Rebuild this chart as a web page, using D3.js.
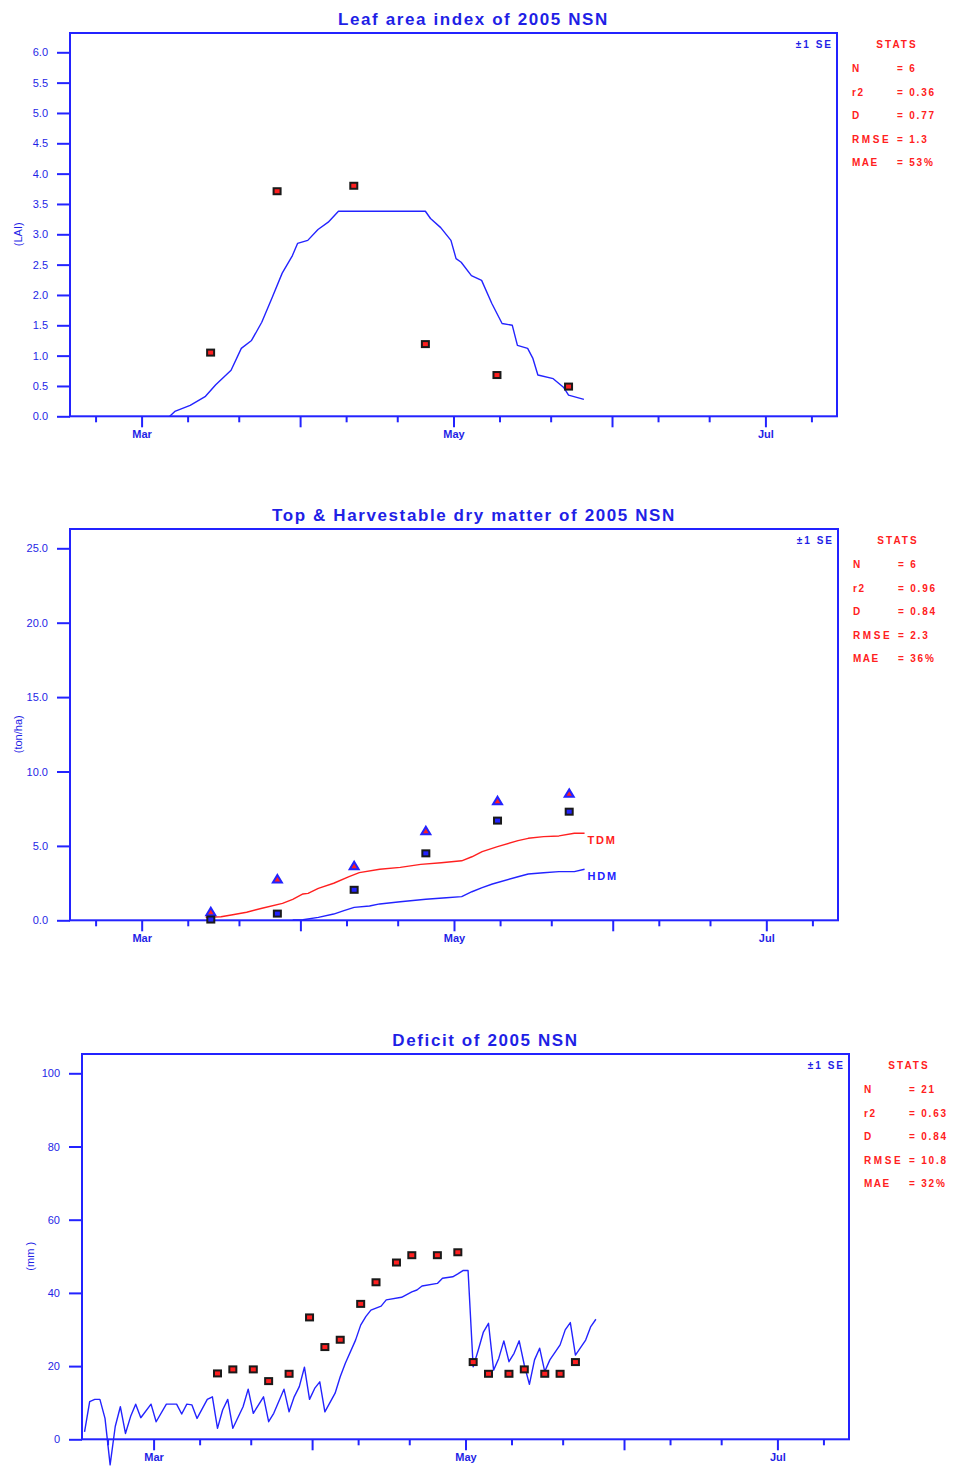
<!DOCTYPE html>
<html>
<head>
<meta charset="utf-8">
<script src="https://cdn.jsdelivr.net/npm/d3@7"></script>
<style>
  body { margin: 0; background: #ffffff; }
  svg text { font-family: "Liberation Sans", Arial, sans-serif; }
</style>
</head>
<body>
<svg id="chart" width="953" height="1467"></svg>
<script>
// ---- Season axis ----
const seasonStart = "2005-02-15";
const seasonEnd = "2005-07-15";
const monthTicks = ["2005-03-01", "2005-04-01", "2005-05-01", "2005-06-01", "2005-07-01"];
const monthTickLabels = ["Mar", "", "May", "", "Jul"];
const minorTicks = ["2005-02-20", "2005-03-10", "2005-03-20", "2005-04-10", "2005-04-20",
                    "2005-05-10", "2005-05-20", "2005-06-10", "2005-06-20", "2005-07-10"];

// ---- Statistics block ----
const statNames = ["N", "r2", "D", "RMSE", "MAE"];
const laiStats = ["= 6", "= 0.36", "= 0.77", "= 1.3", "= 53%"];
const dmStats = ["= 6", "= 0.96", "= 0.84", "= 2.3", "= 36%"];
const deficitStats = ["= 21", "= 0.63", "= 0.84", "= 10.8", "= 32%"];

// ---- Leaf area index ----
const laiTicks = [0, 0.5, 1, 1.5, 2, 2.5, 3, 3.5, 4, 4.5, 5, 5.5, 6];
const laiObsDates = ["2005-03-14", "2005-03-27", "2005-04-11", "2005-04-25", "2005-05-09", "2005-05-23"];
const laiObs = [1.05, 3.71, 3.80, 1.19, 0.68, 0.49];
const laiSimDates = ["2005-03-06", "2005-03-07", "2005-03-10", "2005-03-13", "2005-03-15", "2005-03-18",
  "2005-03-20", "2005-03-22", "2005-03-24", "2005-03-26", "2005-03-28", "2005-03-30", "2005-03-31",
  "2005-04-02", "2005-04-04", "2005-04-06", "2005-04-08", "2005-04-25", "2005-04-26", "2005-04-28",
  "2005-04-30", "2005-05-01", "2005-05-02", "2005-05-04", "2005-05-06", "2005-05-08", "2005-05-10",
  "2005-05-12", "2005-05-13", "2005-05-15", "2005-05-16", "2005-05-17", "2005-05-20", "2005-05-22",
  "2005-05-23", "2005-05-26"];
const laiSim = [0.0, 0.08, 0.18, 0.33, 0.52, 0.76,
  1.12, 1.25, 1.55, 1.95, 2.36, 2.65, 2.85,
  2.90, 3.08, 3.20, 3.38, 3.38, 3.26, 3.11,
  2.90, 2.60, 2.54, 2.32, 2.24, 1.86, 1.53,
  1.50, 1.17, 1.12, 0.96, 0.68, 0.62, 0.48,
  0.35, 0.28];

// ---- Top & harvestable dry matter ----
const dmTicks = [0, 5, 10, 15, 20, 25];
const dmObsDates = ["2005-03-14", "2005-03-27", "2005-04-11", "2005-04-25", "2005-05-09", "2005-05-23"];
const tdmObs = [0.58, 2.78, 3.67, 6.02, 8.04, 8.53];
const hdmObs = [0.05, 0.45, 2.05, 4.50, 6.70, 7.30];
const tdmSimDates = ["2005-03-13", "2005-03-16", "2005-03-18", "2005-03-21", "2005-03-24", "2005-03-28",
  "2005-03-30", "2005-04-01", "2005-04-02", "2005-04-04", "2005-04-07", "2005-04-10", "2005-04-12",
  "2005-04-16", "2005-04-20", "2005-04-24", "2005-04-28", "2005-05-02", "2005-05-04", "2005-05-06",
  "2005-05-09", "2005-05-13", "2005-05-15", "2005-05-18", "2005-05-21", "2005-05-24", "2005-05-26"];
const tdmSim = [0.20, 0.24, 0.36, 0.54, 0.81, 1.14,
  1.41, 1.77, 1.81, 2.15, 2.49, 2.93, 3.20,
  3.43, 3.56, 3.76, 3.87, 4.00, 4.27, 4.61,
  4.95, 5.35, 5.51, 5.62, 5.67, 5.85, 5.85];
const hdmSimDates = ["2005-03-30", "2005-04-01", "2005-04-04", "2005-04-07", "2005-04-09", "2005-04-11",
  "2005-04-14", "2005-04-16", "2005-04-20", "2005-04-25", "2005-04-29", "2005-05-02", "2005-05-04",
  "2005-05-06", "2005-05-08", "2005-05-13", "2005-05-15", "2005-05-18", "2005-05-21", "2005-05-24",
  "2005-05-26"];
const hdmSim = [0.02, 0.04, 0.20, 0.42, 0.65, 0.87,
  0.96, 1.10, 1.25, 1.41, 1.52, 1.59, 1.92,
  2.19, 2.44, 2.93, 3.11, 3.20, 3.27, 3.27,
  3.43];

// ---- Soil water deficit ----
const deficitTicks = [0, 20, 40, 60, 80, 100];
const deficitObsDates = ["2005-03-13", "2005-03-16", "2005-03-20", "2005-03-23", "2005-03-27", "2005-03-31",
  "2005-04-03", "2005-04-06", "2005-04-10", "2005-04-13", "2005-04-17", "2005-04-20", "2005-04-25",
  "2005-04-29", "2005-05-02", "2005-05-05", "2005-05-09", "2005-05-12", "2005-05-16", "2005-05-19",
  "2005-05-22"];
const deficitObs = [18.0, 19.1, 19.1, 15.9, 17.9, 33.3,
  25.2, 27.2, 37.0, 42.9, 48.3, 50.3, 50.3,
  51.1, 21.1, 17.9, 17.9, 19.1, 17.9, 17.9,
  21.1];
const deficitSimDates = ["2005-02-15", "2005-02-16", "2005-02-17", "2005-02-18", "2005-02-19", "2005-02-20",
  "2005-02-21", "2005-02-22", "2005-02-23", "2005-02-24", "2005-02-25", "2005-02-26", "2005-02-28",
  "2005-03-01", "2005-03-03", "2005-03-05", "2005-03-06", "2005-03-07", "2005-03-08", "2005-03-09",
  "2005-03-11", "2005-03-12", "2005-03-13", "2005-03-14", "2005-03-15", "2005-03-16", "2005-03-18",
  "2005-03-19", "2005-03-20", "2005-03-22", "2005-03-23", "2005-03-24", "2005-03-26", "2005-03-27",
  "2005-03-28", "2005-03-29", "2005-03-30", "2005-03-31", "2005-04-01", "2005-04-02", "2005-04-03",
  "2005-04-05", "2005-04-06", "2005-04-07", "2005-04-09", "2005-04-10", "2005-04-11", "2005-04-12",
  "2005-04-14", "2005-04-15", "2005-04-18", "2005-04-20", "2005-04-21", "2005-04-22", "2005-04-25",
  "2005-04-26", "2005-04-28", "2005-04-29", "2005-04-30", "2005-05-01", "2005-05-02", "2005-05-03",
  "2005-05-04", "2005-05-05", "2005-05-06", "2005-05-07", "2005-05-08", "2005-05-09", "2005-05-10",
  "2005-05-11", "2005-05-12", "2005-05-13", "2005-05-14", "2005-05-15", "2005-05-16", "2005-05-17",
  "2005-05-19", "2005-05-20", "2005-05-21", "2005-05-22", "2005-05-24", "2005-05-25", "2005-05-26"];
const deficitSim = [2.0, 10.3, 10.9, 10.9, 5.7, -7.0,
  3.5, 8.9, 1.6, 6.2, 9.6, 5.9, 9.6,
  4.8, 9.6, 9.6, 6.9, 9.6, 9.4, 5.7,
  10.9, 11.6, 3.0, 8.0, 10.9, 3.0, 8.9,
  13.7, 7.1, 11.6, 4.8, 7.1, 13.7, 7.5,
  11.6, 14.4, 19.7, 10.9, 13.9, 15.7, 7.5,
  12.6, 17.1, 20.8, 27.1, 31.2, 33.5, 35.3,
  36.4, 38.1, 38.8, 40.3, 40.8, 41.9, 42.6,
  44.0, 44.4, 45.2, 46.1, 46.1, 19.8, 24.4,
  29.3, 31.7, 18.9, 22.1, 26.9, 21.2, 23.5,
  26.9, 20.3, 15.0, 21.7, 24.9, 18.5, 21.7,
  25.8, 29.9, 31.9, 23.0, 27.1, 30.8, 32.8];

// ---- Drawing ----
const BLUE = "#2323ff";
const TEXT_BLUE = "#1f1fe6";
const RED = "#ff2020";
const svg = d3.select("#chart");

const atNoon = s => new Date(s + "T12:00:00Z");
const atMidnight = s => new Date(s + "T00:00:00Z");
const series = (dates, values) => dates.map((d, i) => ({ date: atNoon(d), value: values[i] }));

function drawPanel(p) {
  const g = svg.append("g");
  const x = d3.scaleUtc()
    .domain([atMidnight(seasonStart), atMidnight(seasonEnd)])
    .range([p.left, p.right]);
  const y = d3.scaleLinear().domain([0, p.yMaxTick]).range([p.bottom, p.yMaxPos]);

  // title
  g.append("text")
    .attr("x", (p.left + p.right) / 2 + 20).attr("y", p.top - 8)
    .attr("text-anchor", "middle")
    .attr("font-size", 17).attr("font-weight", "bold").attr("letter-spacing", 1.6)
    .attr("fill", TEXT_BLUE)
    .text(p.title);

  // y axis
  const ya = g.append("g").attr("transform", `translate(${p.left},0)`)
    .call(d3.axisLeft(y).tickValues(p.yTicks).tickSize(13).tickPadding(9).tickFormat(p.yFormat));
  // major month ticks
  const xa = g.append("g").attr("transform", `translate(0,${p.bottom})`)
    .call(d3.axisBottom(x).tickValues(monthTicks.map(atMidnight)).tickSize(11).tickPadding(3)
      .tickFormat((d, i) => monthTickLabels[i]));
  // minor ticks
  const xm = g.append("g").attr("transform", `translate(0,${p.bottom})`)
    .call(d3.axisBottom(x).tickValues(minorTicks.map(atMidnight)).tickSize(6).tickFormat(""));
  [ya, xa, xm].forEach(a => {
    a.select(".domain").remove();
    a.selectAll(".tick line").attr("stroke", BLUE).attr("stroke-width", 2);
    a.selectAll(".tick text").attr("fill", TEXT_BLUE).attr("font-size", 11)
      .attr("font-family", "\"Liberation Sans\", Arial, sans-serif");
  });
  xa.selectAll(".tick text").attr("font-weight", "bold").attr("font-size", 11);

  // frame
  g.append("rect")
    .attr("x", p.left).attr("y", p.top)
    .attr("width", p.right - p.left).attr("height", p.bottom - p.top)
    .attr("fill", "none").attr("stroke", BLUE).attr("stroke-width", 2);

  // y axis title
  g.append("text")
    .attr("transform", `translate(${p.yLabelX},${(p.bottom + p.yMaxPos) / 2}) rotate(-90)`)
    .attr("text-anchor", "middle").attr("font-size", 11).attr("fill", TEXT_BLUE)
    .text(p.yLabel);

  // ±1 SE
  g.append("text")
    .attr("x", p.right - 4).attr("y", p.top + 15)
    .attr("text-anchor", "end").attr("font-size", 10).attr("font-weight", "bold")
    .attr("letter-spacing", 2).attr("fill", TEXT_BLUE)
    .text("±1 SE");

  // statistics
  const sx = p.right + 15;
  g.append("text")
    .attr("x", sx + 45).attr("y", p.top + 15)
    .attr("text-anchor", "middle").attr("font-size", 10).attr("font-weight", "bold")
    .attr("letter-spacing", 2).attr("fill", RED).text("STATS");
  statNames.forEach((name, i) => {
    const ty = p.top + 39 + i * 23.6;
    g.append("text").attr("x", sx).attr("y", ty)
      .attr("font-size", 10).attr("font-weight", "bold").attr("letter-spacing", name === "RMSE" ? 2.6 : 1.5)
      .attr("fill", RED).text(name);
    g.append("text").attr("x", sx + 45).attr("y", ty)
      .attr("font-size", 10).attr("font-weight", "bold").attr("letter-spacing", 1.8)
      .attr("fill", RED).text(p.stats[i]);
  });

  const line = d3.line().x(d => x(d.date)).y(d => y(d.value));
  p.lines.forEach(l => {
    const data = series(l.dates, l.values);
    g.append("path").datum(data)
      .attr("d", line).attr("fill", "none")
      .attr("stroke", l.color).attr("stroke-width", 1.4).attr("stroke-linejoin", "round");
    if (l.label) {
      const last = data[data.length - 1];
      g.append("text")
        .attr("x", x(last.date) + 3).attr("y", y(last.value) + 11)
        .attr("font-size", 11).attr("font-weight", "bold").attr("letter-spacing", 1.8)
        .attr("fill", l.color).text(l.label);
    }
  });

  p.points.forEach(s => {
    const data = series(s.dates, s.values);
    if (s.shape === "triangle") {
      g.selectAll(null).data(data).join("path")
        .attr("transform", d => `translate(${x(d.date)},${y(d.value)})`)
        .attr("d", "M0,-4L4.5,3.5L-4.5,3.5Z")
        .attr("fill", RED).attr("stroke", BLUE).attr("stroke-width", 2);
    } else {
      g.selectAll(null).data(data).join("rect")
        .attr("x", d => x(d.date) - 3.5).attr("y", d => y(d.value) - 3)
        .attr("width", 7).attr("height", 6)
        .attr("fill", s.fill).attr("stroke", "#1a1a1a").attr("stroke-width", 2);
    }
  });
}

drawPanel({
  title: "Leaf area index of 2005 NSN",
  left: 70, right: 837, top: 33, bottom: 416.3,
  yMaxTick: 6, yMaxPos: 52.3, yTicks: laiTicks, yFormat: d3.format(".1f"),
  yLabel: "(LAI)", yLabelX: 22,
  stats: laiStats,
  lines: [{ dates: laiSimDates, values: laiSim, color: BLUE }],
  points: [{ dates: laiObsDates, values: laiObs, shape: "square", fill: RED }]
});

drawPanel({
  title: "Top & Harvestable dry matter of 2005 NSN",
  left: 70, right: 838, top: 529, bottom: 920.3,
  yMaxTick: 25, yMaxPos: 548.3, yTicks: dmTicks, yFormat: d3.format(".1f"),
  yLabel: "(ton/ha)", yLabelX: 22,
  stats: dmStats,
  lines: [
    { dates: tdmSimDates, values: tdmSim, color: RED, label: "TDM" },
    { dates: hdmSimDates, values: hdmSim, color: BLUE, label: "HDM" }
  ],
  points: [
    { dates: dmObsDates, values: tdmObs, shape: "triangle" },
    { dates: dmObsDates, values: hdmObs, shape: "square", fill: BLUE }
  ]
});

drawPanel({
  title: "Deficit of 2005 NSN",
  left: 82, right: 849, top: 1054, bottom: 1439.3,
  yMaxTick: 100, yMaxPos: 1073.3, yTicks: deficitTicks, yFormat: d3.format("d"),
  yLabel: "(mm )", yLabelX: 34,
  stats: deficitStats,
  lines: [{ dates: deficitSimDates, values: deficitSim, color: BLUE }],
  points: [{ dates: deficitObsDates, values: deficitObs, shape: "square", fill: RED }]
});
</script>
</body>
</html>
